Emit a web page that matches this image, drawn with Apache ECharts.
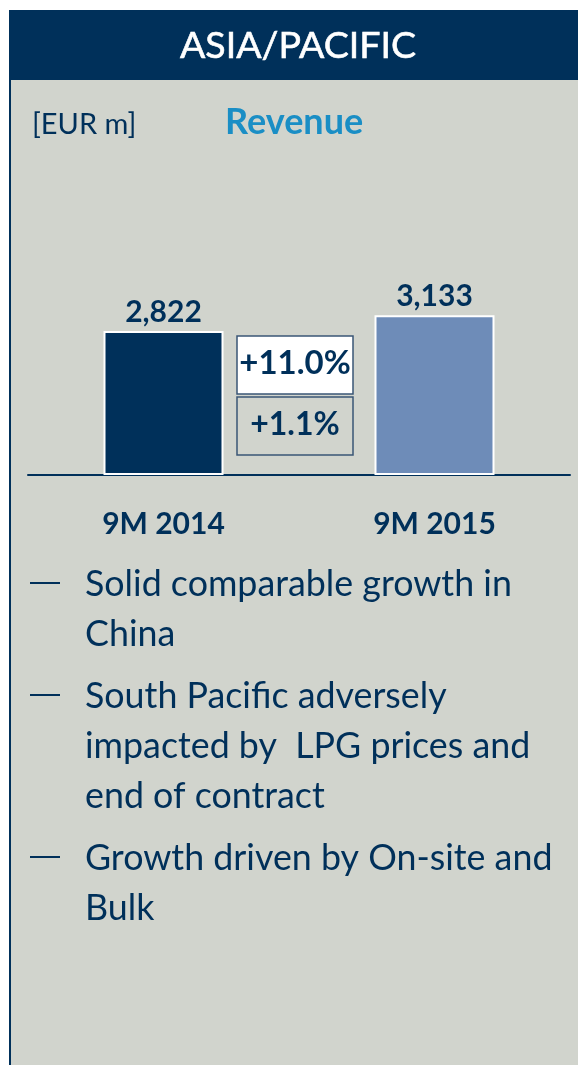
<!DOCTYPE html>
<html>
<head>
<meta charset="utf-8">
<script src="https://cdn.jsdelivr.net/npm/echarts@6/dist/echarts.min.js"></script>
<style>
html,body{margin:0;padding:0;background:#ffffff;}
#chart{width:578px;height:1065px;}
</style>
</head>
<body>
<div id="chart"></div>
<script>
// ---- data ----
const panelTitle = 'ASIA/PACIFIC';
const unitLabel = '[EUR m]';
const metricLabel = 'Revenue';
const categories = ['9M 2014', '9M 2015'];
const revenue = [2822, 3133];
const changeReported = '+11.0%';
const changeComparable = '+1.1%';
const bullets = [
  ['Solid comparable growth in', 'China'],
  ['South Pacific adversely', 'impacted by  LPG prices and', 'end of contract'],
  ['Growth driven by On-site and', 'Bulk']
];

// ---- styles ----
const NAVY = '#00305a';
const LIGHT = '#6e8cb8';
const BG = '#d1d4cd';
const CYAN = '#1a8ec5';
const barColors = [NAVY, LIGHT];
const FONT = 'Lato, "Open Sans", sans-serif';

const chart = echarts.init(document.getElementById('chart'), null, {renderer: 'canvas'});

const elements = [
  {type: 'rect', shape: {x: 0, y: 0, width: 578, height: 10}, style: {fill: '#ffffff'}},
  {type: 'rect', shape: {x: 0, y: 0, width: 9, height: 1065}, style: {fill: '#ffffff'}},
  {type: 'rect', shape: {x: 9, y: 10, width: 569, height: 70}, style: {fill: NAVY}},
  {type: 'line', shape: {x1: 10, y1: 10, x2: 10, y2: 1065}, style: {stroke: NAVY, lineWidth: 2}},
  {type: 'text', x: 298, y: 46, style: {text: panelTitle, fill: '#ffffff', font: 'normal 37.5px ' + FONT, align: 'center', verticalAlign: 'middle', stroke: '#ffffff', lineWidth: 0.6}},
  {type: 'text', x: 32, y: 125, style: {text: unitLabel, fill: NAVY, font: 'normal 29px ' + FONT, align: 'left', verticalAlign: 'middle'}},
  {type: 'text', x: 225, y: 122, style: {text: metricLabel, fill: CYAN, font: 'bold 36px ' + FONT, align: 'left', verticalAlign: 'middle'}},
  {type: 'rect', shape: {x: 237, y: 336, width: 116, height: 58}, style: {fill: '#ffffff', stroke: '#3a5676', lineWidth: 1.5}},
  {type: 'text', x: 295, y: 363, style: {text: changeReported, fill: NAVY, font: 'bold 33px ' + FONT, align: 'center', verticalAlign: 'middle'}},
  {type: 'rect', shape: {x: 237, y: 397, width: 116, height: 58}, style: {fill: BG, stroke: '#3a5676', lineWidth: 1.5}},
  {type: 'text', x: 295, y: 425, style: {text: changeComparable, fill: NAVY, font: 'bold 32px ' + FONT, align: 'center', verticalAlign: 'middle'}}
];

// bullet list
const lineCenters = [[584, 634], [696, 746, 796], [858, 908]];
bullets.forEach((lines, i) => {
  const dashY = lineCenters[i][0] - 1;
  elements.push({type: 'line', shape: {x1: 30, y1: dashY, x2: 60, y2: dashY}, style: {stroke: NAVY, lineWidth: 2}});
  lines.forEach((t, j) => {
    elements.push({type: 'text', x: 85, y: lineCenters[i][j], style: {text: t, fill: NAVY, font: 'normal 35.8px ' + FONT, align: 'left', verticalAlign: 'middle'}});
  });
});

const option = {
  backgroundColor: BG,
  animation: false,
  grid: {left: 28, right: 8, top: 271, bottom: 590},
  xAxis: {
    type: 'category',
    data: categories,
    axisLine: {show: true, lineStyle: {color: NAVY, width: 2}},
    axisTick: {show: false},
    axisLabel: {color: NAVY, fontFamily: FONT, fontSize: 30, fontWeight: 'bold', margin: 34}
  },
  yAxis: {type: 'value', min: 0, max: 4000, show: false, splitLine: {show: false}},
  series: [{
    type: 'bar',
    data: revenue.map((v, i) => ({value: v, itemStyle: {color: barColors[i]}})),
    barWidth: 120,
    itemStyle: {borderColor: '#ffffff', borderWidth: 2},
    label: {
      show: true, position: 'top', distance: 4,
      color: NAVY, fontFamily: FONT, fontSize: 30, fontWeight: 'bold',
      formatter: p => p.value.toLocaleString('en-US')
    }
  }],
  graphic: {elements: elements}
};
chart.setOption(option);
</script>
</body>
</html>
